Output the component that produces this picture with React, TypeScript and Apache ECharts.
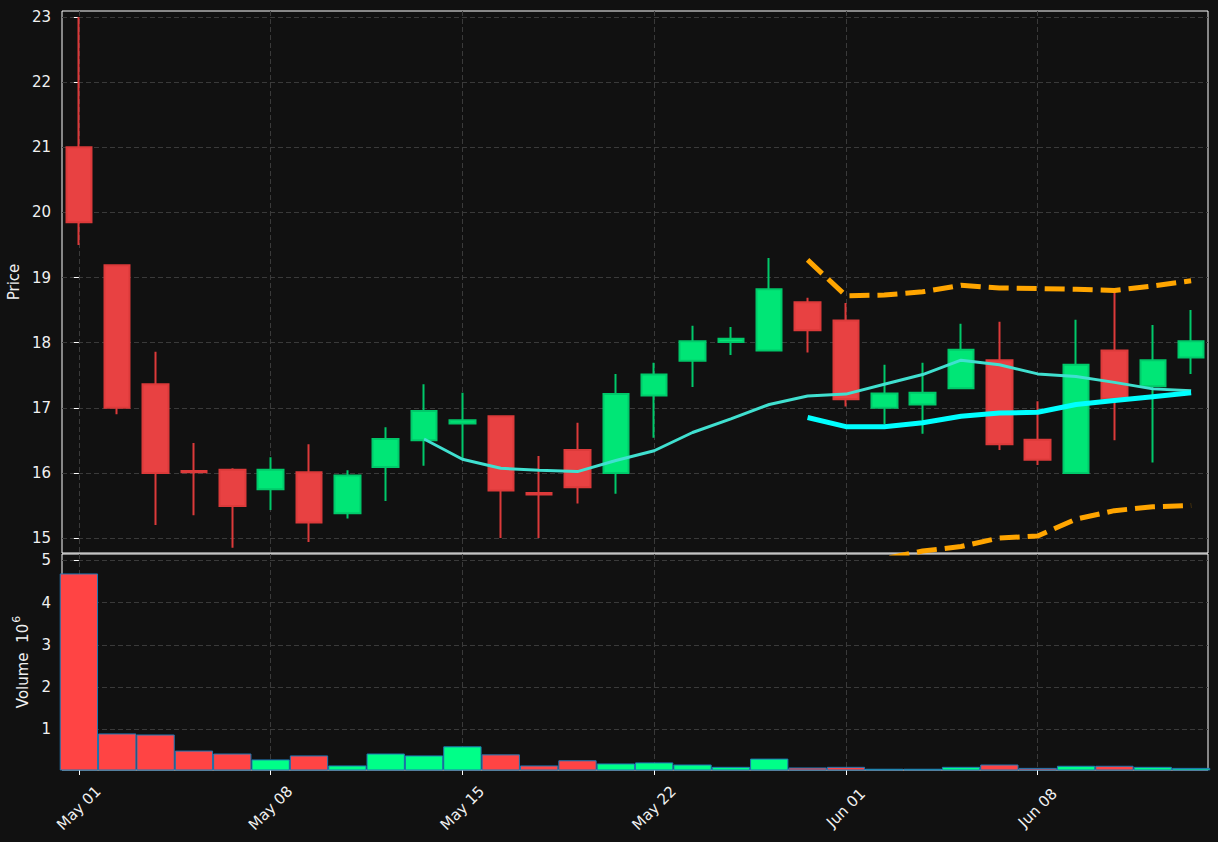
import React, { useEffect, useRef } from "react";
import * as echarts from "echarts";

const dates = [
  "May 01", "May 02", "May 03", "May 04", "May 05",
  "May 08", "May 09", "May 10", "May 11", "May 12",
  "May 15", "May 16", "May 17", "May 18", "May 19",
  "May 22", "May 23", "May 24", "May 25", "May 26",
  "Jun 01", "Jun 02", "Jun 05", "Jun 06", "Jun 07",
  "Jun 08", "Jun 09", "Jun 12", "Jun 13", "Jun 14",
];

const opens = [21.0, 19.19, 17.36, 16.03, 16.05, 15.75, 16.01, 15.38, 16.09, 16.5,
  16.76, 16.87, 15.69, 16.35, 16.0, 17.19, 17.72, 18.01, 17.88, 18.62,
  18.34, 17.0, 17.05, 17.3, 17.73, 16.51, 16.0, 17.88, 17.33, 17.77];
const closes = [19.85, 17.0, 16.0, 16.01, 15.49, 16.05, 15.24, 15.96, 16.52, 16.95,
  16.81, 15.73, 15.67, 15.78, 17.21, 17.51, 18.02, 18.06, 18.82, 18.19,
  17.13, 17.22, 17.23, 17.89, 16.44, 16.2, 17.66, 17.14, 17.73, 18.02];
const lows = [19.5, 16.9, 15.2, 15.35, 14.85, 15.43, 14.94, 15.3, 15.57, 16.11,
  16.22, 15.0, 15.0, 15.53, 15.68, 16.54, 17.32, 17.81, 17.88, 17.85,
  17.02, 16.75, 16.6, 17.3, 16.35, 16.12, 16.0, 16.5, 16.16, 17.52];
const highs = [23.0, 19.19, 17.86, 16.46, 16.07, 16.24, 16.44, 16.04, 16.7, 17.36,
  17.23, 16.87, 16.26, 16.77, 17.52, 17.69, 18.26, 18.24, 19.3, 18.69,
  18.61, 17.66, 17.69, 18.29, 18.32, 17.1, 18.35, 18.78, 18.27, 18.5];

// volume in millions
const volumes = [4.69, 0.905, 0.88, 0.5, 0.43, 0.29, 0.385, 0.148, 0.43, 0.385,
  0.6, 0.41, 0.148, 0.27, 0.195, 0.22, 0.17, 0.115, 0.31, 0.1,
  0.115, 0.07, 0.07, 0.115, 0.17, 0.09, 0.14, 0.14, 0.115, 0.09];

const ma10 = [null, null, null, null, null, null, null, null, null, 16.52,
  16.21, 16.07, 16.04, 16.02, 16.19, 16.34, 16.62, 16.83, 17.05, 17.18,
  17.21, 17.36, 17.51, 17.73, 17.66, 17.52, 17.48, 17.39, 17.29, 17.26];
const ma20 = [null, null, null, null, null, null, null, null, null, null,
  null, null, null, null, null, null, null, null, null, 16.85,
  16.71, 16.71, 16.77, 16.87, 16.92, 16.93, 17.05, 17.11, 17.17, 17.23];
const upperBand = [null, null, null, null, null, null, null, null, null, null,
  null, null, null, null, null, null, null, null, null, 19.27,
  18.72, 18.73, 18.78, 18.88, 18.84, 18.83, 18.82, 18.8, 18.87, 18.95];
const lowerBand = [null, null, null, null, null, null, null, null, null, null,
  null, null, null, null, null, null, null, null, null, 14.43,
  14.6, 14.68, 14.8, 14.87, 15.0, 15.03, 15.29, 15.42, 15.48, 15.5];

const priceTicks = [15, 16, 17, 18, 19, 20, 21, 22, 23];
const volumeTicks = [1, 2, 3, 4, 5];
const dateTickIdx = [0, 5, 10, 15, 20, 25];

const TEXT = "#f0f0f0";
const GRIDLINE = "#3a3a3a";
const FONT = "DejaVu Sans";
const FS = 15;

export default function App() {
  const ref = useRef<HTMLDivElement>(null);
  useEffect(() => {
    document.body.style.margin = "0";
    document.body.style.background = "#111111";
    if (!ref.current) return;
    const chart = echarts.init(ref.current, null, { renderer: "svg" });

    const candleData = dates.map((_, i) => [i, opens[i], closes[i], lows[i], highs[i]]);
    const volData = volumes.map((v, i) => ({
      value: [i, v],
      itemStyle: { color: closes[i] >= opens[i] ? "#00ff88" : "#ff4444" },
    }));
    const toXY = (arr: (number | null)[]) => arr.map((v, i) => [i, v === null ? null : v]);

    const splitLine = { show: true, lineStyle: { color: GRIDLINE, type: [5, 3], width: 1 } };
    const xCommon = {
      type: "value",
      min: -0.44,
      max: 29.44,
      axisLine: { show: false },
      splitLine,
    };

    chart.setOption({
      animation: false,
      backgroundColor: "#111111",
      textStyle: { fontFamily: FONT },
      grid: [
        { left: 62, top: 11, width: 1146, height: 542, show: true, borderColor: "#ffffff", borderWidth: 1, backgroundColor: "transparent", containLabel: false, outerBoundsMode: "none" },
        { left: 62, top: 554, width: 1146, height: 216, show: true, borderColor: "#ffffff", borderWidth: 1, backgroundColor: "transparent", containLabel: false, outerBoundsMode: "none" },
      ],
      xAxis: [
        {
          ...xCommon,
          gridIndex: 0,
          axisTick: { show: false, customValues: dateTickIdx },
          axisLabel: { show: false, customValues: dateTickIdx },
        },
        {
          ...xCommon,
          gridIndex: 1,
          axisTick: { show: true, length: 5, lineStyle: { color: "#ffffff" }, customValues: dateTickIdx },
          axisLabel: {
            show: true,
            customValues: dateTickIdx,
            formatter: (v: number) => dates[Math.round(v)] ?? "",
            rotate: 45,
            align: "center",
            verticalAlign: "middle",
            margin: 38,
            color: TEXT,
            fontSize: FS,
            fontFamily: FONT,
          },
        },
      ],
      yAxis: [
        {
          type: "value",
          gridIndex: 0,
          min: 14.77,
          max: 23.092,
          name: "Price",
          nameLocation: "middle",
          nameGap: 31,
          nameTextStyle: { color: TEXT, fontSize: FS, fontFamily: FONT },
          axisLine: { show: false },
          axisTick: { show: true, length: 5, lineStyle: { color: "#ffffff" }, customValues: priceTicks },
          axisLabel: { customValues: priceTicks, color: TEXT, fontSize: FS, fontFamily: FONT, margin: 11, formatter: (v: number) => String(v) },
          splitLine,
        },
        {
          type: "value",
          gridIndex: 1,
          min: 0.04,
          max: 5.15,
          name: "{a|Volume  10}{b|6}",
          nameLocation: "middle",
          nameGap: 24,
          nameTextStyle: {
            color: TEXT,
            fontSize: FS,
            fontFamily: FONT,
            rich: {
              a: { color: TEXT, fontSize: FS, fontFamily: FONT, lineHeight: 20, verticalAlign: "bottom" },
              b: { color: TEXT, fontSize: 11, fontFamily: FONT, lineHeight: 20, verticalAlign: "top", padding: [0, 0, 0, 1] },
            },
          },
          axisLine: { show: false },
          axisTick: { show: true, length: 5, lineStyle: { color: "#ffffff" }, customValues: volumeTicks },
          axisLabel: { customValues: volumeTicks, color: TEXT, fontSize: FS, fontFamily: FONT, margin: 11, formatter: (v: number) => String(v) },
          splitLine,
        },
      ],
      series: [
        {
          type: "candlestick",
          xAxisIndex: 0,
          yAxisIndex: 0,
          data: candleData,
          encode: { x: 0, y: [1, 2, 3, 4] },
          barWidth: 26,
          itemStyle: {
            color: "#00e676",
            color0: "#e84142",
            borderColor: "#00c96a",
            borderColor0: "#dc3a3a",
            borderWidth: 2,
          },
          z: 5,
        },
        {
          type: "line",
          xAxisIndex: 0,
          yAxisIndex: 0,
          data: toXY(ma10),
          showSymbol: false,
          lineStyle: { color: "#40e0d0", width: 3 },
          clip: true,
          z: 6,
        },
        {
          type: "line",
          xAxisIndex: 0,
          yAxisIndex: 0,
          data: toXY(ma20),
          showSymbol: false,
          lineStyle: { color: "#00ffff", width: 5 },
          clip: true,
          z: 7,
        },
        {
          type: "line",
          xAxisIndex: 0,
          yAxisIndex: 0,
          data: toXY(upperBand),
          showSymbol: false,
          lineStyle: { color: "#ffa500", width: 5, type: [20, 8] },
          clip: true,
          z: 7,
        },
        {
          type: "line",
          xAxisIndex: 0,
          yAxisIndex: 0,
          data: toXY(lowerBand),
          showSymbol: false,
          lineStyle: { color: "#ffa500", width: 5, type: [20, 8] },
          clip: true,
          z: 7,
        },
        {
          type: "bar",
          xAxisIndex: 1,
          yAxisIndex: 1,
          data: volData,
          barWidth: 38.3,
          clip: true,
          itemStyle: { borderColor: "#1f77b4", borderWidth: 1 },
        },
      ],
    });
    return () => chart.dispose();
  }, []);
  return <div ref={ref} style={{ width: 1218, height: 842 }} />;
}
